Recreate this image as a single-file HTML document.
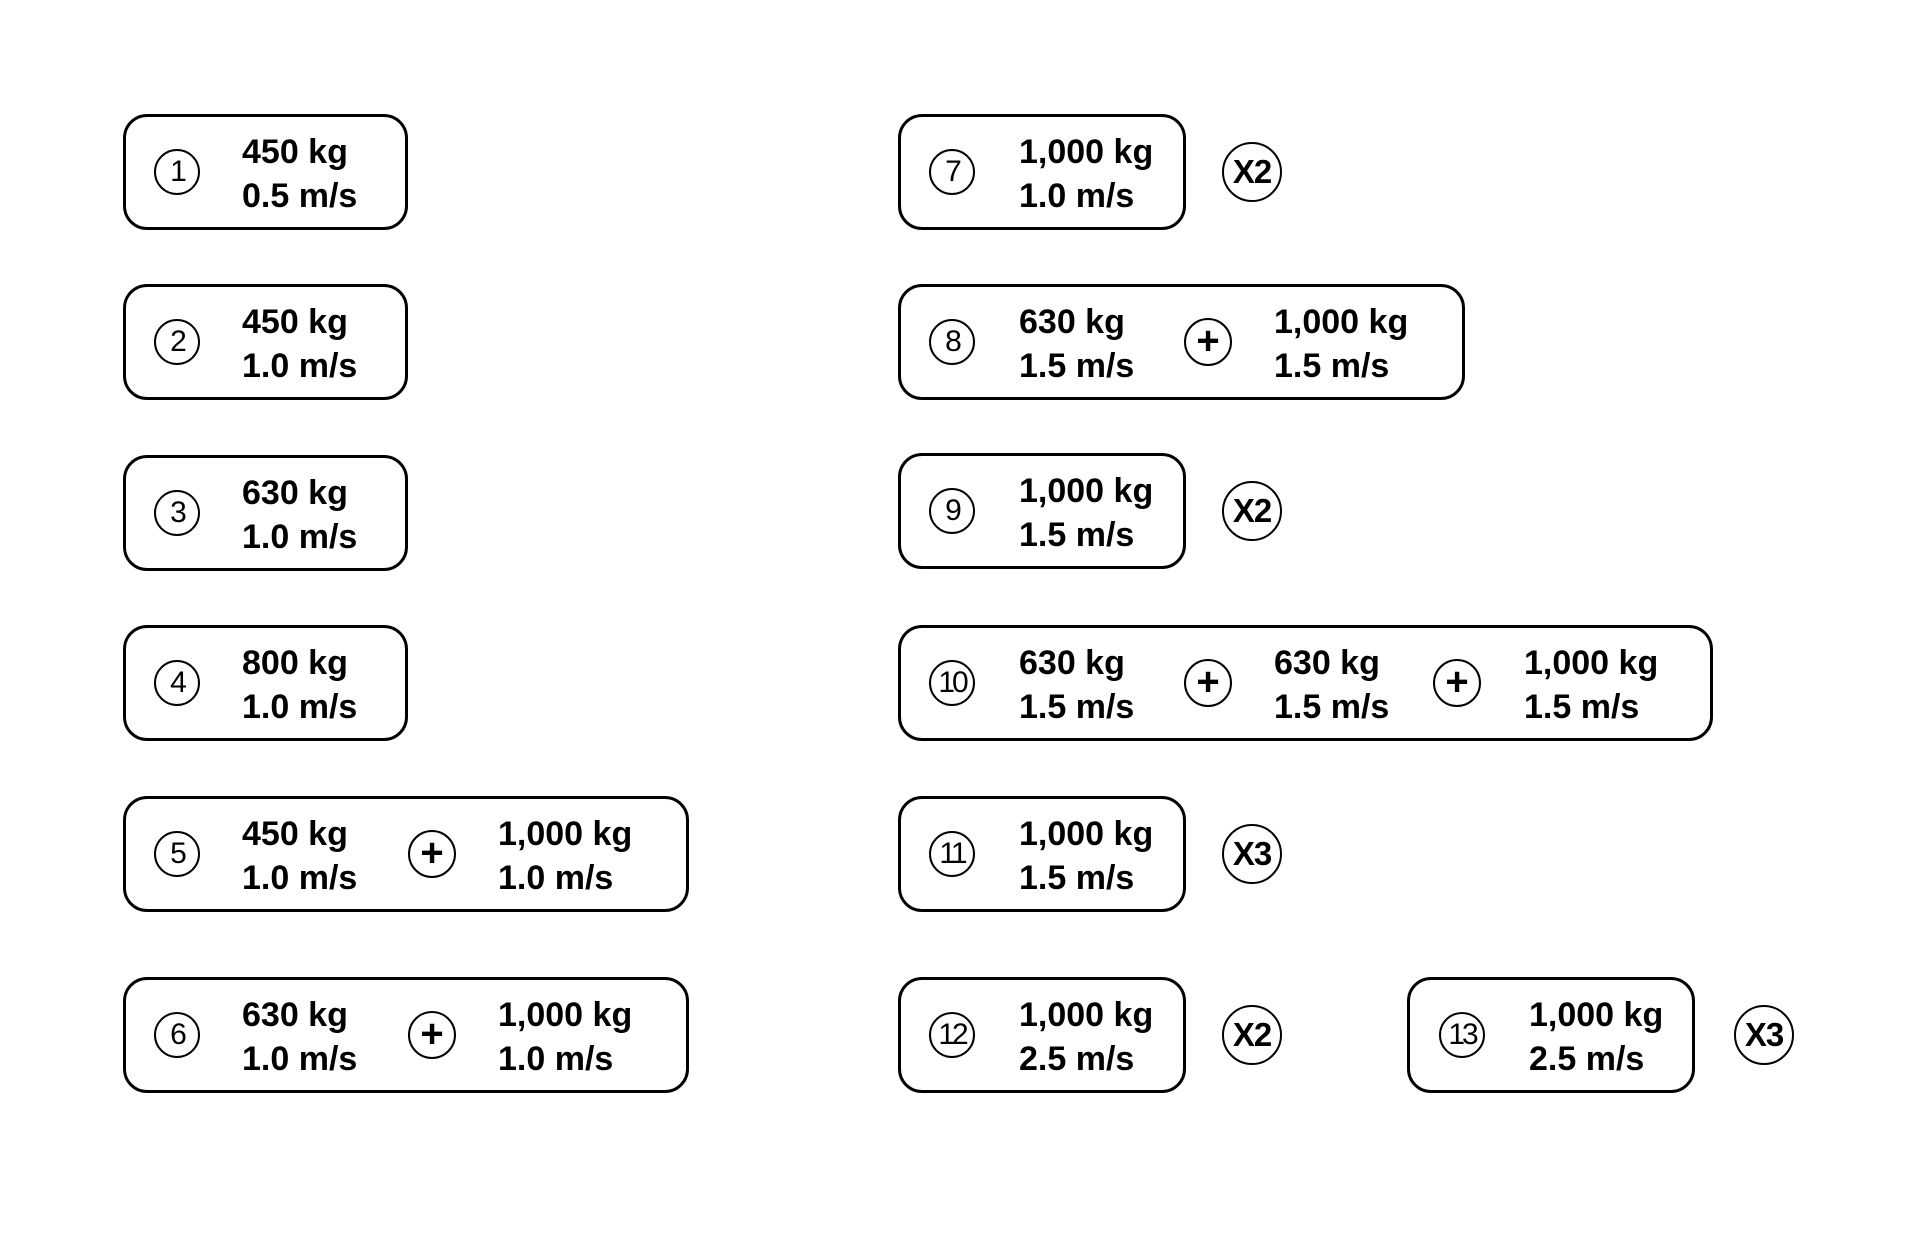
<!DOCTYPE html>
<html><head><meta charset="utf-8"><style>
body{margin:0;width:1920px;height:1256px;background:#fff;position:relative;overflow:hidden;font-family:"Liberation Sans",sans-serif}
.b{position:absolute;border:3.5px solid #000;border-radius:24px;box-sizing:border-box;height:116px}
.t{position:absolute;font-weight:bold;font-size:34px;line-height:44px;color:#000;white-space:nowrap}
.n{position:absolute;width:46px;height:46px;border:2px solid #000;border-radius:50%;box-sizing:border-box;text-align:center;line-height:42px;font-size:30px;font-weight:normal;letter-spacing:-3px}
.p{position:absolute;width:48px;height:48px;border:2.5px solid #000;border-radius:50%;box-sizing:border-box;text-align:center;line-height:42px;font-size:40px;font-weight:bold}
.x{position:absolute;width:60px;height:60px;border:2.5px solid #000;border-radius:50%;box-sizing:border-box;text-align:center;line-height:55px;font-size:33px;font-weight:bold;letter-spacing:-1px}
</style></head><body>
<!-- left column -->
<div class="b" style="left:123px;top:114px;width:285px"></div>
<div class="n" style="left:154px;top:149px">1</div>
<div class="t" style="left:242px;top:130px">450 kg<br>0.5 m/s</div>

<div class="b" style="left:123px;top:284px;width:285px"></div>
<div class="n" style="left:154px;top:319px">2</div>
<div class="t" style="left:242px;top:300px">450 kg<br>1.0 m/s</div>

<div class="b" style="left:123px;top:455px;width:285px"></div>
<div class="n" style="left:154px;top:490px">3</div>
<div class="t" style="left:242px;top:471px">630 kg<br>1.0 m/s</div>

<div class="b" style="left:123px;top:625px;width:285px"></div>
<div class="n" style="left:154px;top:660px">4</div>
<div class="t" style="left:242px;top:641px">800 kg<br>1.0 m/s</div>

<div class="b" style="left:123px;top:796px;width:566px"></div>
<div class="n" style="left:154px;top:831px">5</div>
<div class="t" style="left:242px;top:812px">450 kg<br>1.0 m/s</div>
<div class="p" style="left:408px;top:830px">+</div>
<div class="t" style="left:498px;top:812px">1,000 kg<br>1.0 m/s</div>

<div class="b" style="left:123px;top:977px;width:566px"></div>
<div class="n" style="left:154px;top:1012px">6</div>
<div class="t" style="left:242px;top:993px">630 kg<br>1.0 m/s</div>
<div class="p" style="left:408px;top:1011px">+</div>
<div class="t" style="left:498px;top:993px">1,000 kg<br>1.0 m/s</div>

<!-- right column -->
<div class="b" style="left:898px;top:114px;width:288px"></div>
<div class="n" style="left:929px;top:149px">7</div>
<div class="t" style="left:1019px;top:130px">1,000 kg<br>1.0 m/s</div>
<div class="x" style="left:1222px;top:142px">X2</div>

<div class="b" style="left:898px;top:284px;width:567px"></div>
<div class="n" style="left:929px;top:319px">8</div>
<div class="t" style="left:1019px;top:300px">630 kg<br>1.5 m/s</div>
<div class="p" style="left:1184px;top:318px">+</div>
<div class="t" style="left:1274px;top:300px">1,000 kg<br>1.5 m/s</div>

<div class="b" style="left:898px;top:453px;width:288px"></div>
<div class="n" style="left:929px;top:488px">9</div>
<div class="t" style="left:1019px;top:469px">1,000 kg<br>1.5 m/s</div>
<div class="x" style="left:1222px;top:481px">X2</div>

<div class="b" style="left:898px;top:625px;width:815px"></div>
<div class="n" style="left:929px;top:660px">10</div>
<div class="t" style="left:1019px;top:641px">630 kg<br>1.5 m/s</div>
<div class="p" style="left:1184px;top:659px">+</div>
<div class="t" style="left:1274px;top:641px">630 kg<br>1.5 m/s</div>
<div class="p" style="left:1433px;top:659px">+</div>
<div class="t" style="left:1524px;top:641px">1,000 kg<br>1.5 m/s</div>

<div class="b" style="left:898px;top:796px;width:288px"></div>
<div class="n" style="left:929px;top:831px">11</div>
<div class="t" style="left:1019px;top:812px">1,000 kg<br>1.5 m/s</div>
<div class="x" style="left:1222px;top:824px">X3</div>

<div class="b" style="left:898px;top:977px;width:288px"></div>
<div class="n" style="left:929px;top:1012px">12</div>
<div class="t" style="left:1019px;top:993px">1,000 kg<br>2.5 m/s</div>
<div class="x" style="left:1222px;top:1005px">X2</div>

<div class="b" style="left:1407px;top:977px;width:288px"></div>
<div class="n" style="left:1439px;top:1012px">13</div>
<div class="t" style="left:1529px;top:993px">1,000 kg<br>2.5 m/s</div>
<div class="x" style="left:1734px;top:1005px">X3</div>
</body></html>
